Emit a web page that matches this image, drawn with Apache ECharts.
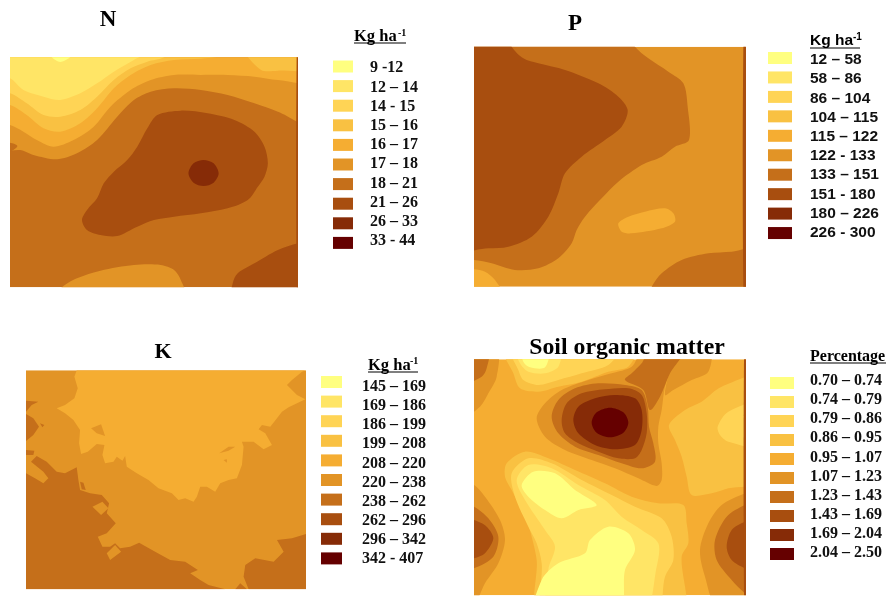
<!DOCTYPE html>
<html><head><meta charset="utf-8">
<style>html,body{margin:0;padding:0;background:#fff}#c{width:886px;height:596px;filter:blur(0.45px)}</style>
<script src="https://cdn.jsdelivr.net/npm/echarts@6/dist/echarts.min.js"></script>
</head><body><div id="c"></div>
<script>
// Colour classes shared by all four maps (index 0 = lowest class)
const palette = ['#FFFF80','#FFE566','#FFD455','#F9C142','#F5AD32','#E29426','#C56F1A','#A84E0F','#862B07','#650000'];

// Legend class labels
const nClasses = ['9 -12','12 – 14','14 - 15','15 – 16','16 – 17','17 – 18','18 – 21','21 – 26','26 – 33','33 - 44'];
const pClasses = ['12 – 58','58 – 86','86 – 104','104 – 115','115 – 122','122 - 133','133 – 151','151 - 180','180 – 226','226 - 300'];
const kClasses = ['145 – 169','169 – 186','186 – 199','199 – 208','208 – 220','220 – 238','238 – 262','262 – 296','296 – 342','342 - 407'];
const omClasses = ['0.70 – 0.74','0.74 – 0.79','0.79 – 0.86','0.86 – 0.95','0.95 – 1.07','1.07 – 1.23','1.23 – 1.43','1.43 – 1.69','1.69 – 2.04','2.04 – 2.50'];

// Map zones: [class, outline in map units], painted in order over the base class
const nBase = 6;
const nZones = [
 [5,[[-60,450],[60,450],[100,465],[170,478],[230,460],[290,420],[350,350],[400,300],[450,275],[520,265],[600,270],[680,285],[760,310],[830,335],[960,385],[960,80],[-60,80]]],
 [4,[[-60,360],[30,375],[70,395],[110,420],[160,440],[220,420],[280,380],[330,320],[390,270],[450,240],[520,225],[600,225],[680,225],[760,230],[830,240],[960,245],[960,80],[-60,80]]],
 [3,[[-60,300],[30,315],[80,345],[130,385],[180,395],[240,370],[290,325],[340,265],[390,225],[450,195],[520,180],[600,176],[680,166],[730,150],[-60,100]]],
 [3,[[735,150],[780,210],[830,212],[960,205],[960,120]]],
 [2,[[-60,265],[30,280],[80,310],[130,345],[180,350],[240,330],[290,290],[340,240],[390,205],[440,185],[490,172],[540,130],[-60,100]]],
 [1,[[-60,215],[30,235],[70,270],[130,290],[180,300],[240,280],[290,250],[340,215],[400,180],[430,160],[-60,100]]],
 [0,[[150,165],[180,186],[215,165],[180,150]]],
 [6,[[-20,430],[30,428],[52,438],[30,455],[-20,458]]],
 [7,[[470,345],[540,332],[620,340],[700,360],[760,395],[790,440],[800,490],[790,530],[770,560],[740,600],[680,625],[600,640],[520,650],[460,660],[410,680],[350,708],[300,705],[260,690],[245,660],[260,630],[290,595],[310,550],[340,515],[380,480],[410,440],[440,385]]],
 [8,[[608,480],[638,490],[653,520],[638,548],[608,558],[578,548],[563,520],[578,490]]],
 [7,[[960,715],[890,730],[830,750],[760,790],[710,820],[695,850],[690,920],[960,920]]],
 [5,[[160,900],[185,862],[230,835],[300,812],[400,795],[480,795],[520,810],[540,840],[555,900]]],
 [7,[[886,160],[893,160],[893,862],[886,862]]]
];
const pBase = 5;
const pZones = [
 [6,[[-60,780],[27,780],[80,790],[150,810],[220,805],[280,775],[320,730],[335,690],[360,650],[410,595],[460,545],[530,495],[590,470],[630,440],[672,420],[668,320],[655,250],[610,215],[550,175],[510,140],[470,80],[-60,80]]],
 [7,[[-60,745],[70,745],[130,740],[200,710],[250,650],[280,580],[300,520],[350,470],[420,420],[470,380],[488,330],[460,290],[400,250],[300,210],[220,190],[175,175],[140,140],[110,80],[-60,80]]],
 [6,[[530,920],[560,860],[590,820],[650,780],[730,760],[800,755],[900,745],[900,920]]],
 [4,[[460,670],[490,650],[540,635],[600,625],[625,640],[630,665],[590,685],[500,700],[470,695]]],
 [4,[[-40,805],[27,808],[60,815],[90,840],[120,900],[-40,900]]],
 [7,[[835,140],[843,140],[843,860],[835,860]]]
];
const kBase = 5;
const kZones = [
 [4,[[185,121],[178,140],[188,175],[178,205],[150,225],[125,235],[150,250],[175,270],[195,300],[192,340],[198,372],[218,365],[245,342],[268,345],[262,375],[270,400],[295,395],[305,380],[322,392],[330,378],[335,410],[365,430],[400,450],[430,475],[470,490],[490,510],[510,505],[535,515],[545,500],[555,470],[575,470],[600,485],[615,460],[640,450],[665,445],[680,405],[685,350],[680,335],[715,335],[745,358],[770,345],[750,310],[730,298],[740,285],[765,290],[785,265],[800,245],[820,232],[845,220],[870,208],[845,195],[815,165],[830,150],[860,125],[872,121]]],
 [5,[[228,295],[258,283],[270,318],[245,310]]],
 [5,[[612,370],[640,350],[660,350],[640,362]]],
 [5,[[625,390],[635,388],[635,398]]],
 [6,[[33,430],[60,445],[85,460],[100,445],[85,425],[60,405],[48,395],[65,378],[95,395],[125,425],[150,430],[185,412],[190,450],[195,480],[225,490],[260,495],[282,520],[275,550],[302,580],[275,610],[248,620],[262,650],[285,650],[300,640],[315,655],[345,650],[372,638],[420,665],[465,690],[510,695],[548,720],[525,730],[555,750],[580,765],[630,778],[33,778]]],
 [5,[[232,530],[262,515],[280,535],[258,555]]],
 [5,[[275,670],[300,645],[318,665],[285,690]]],
 [6,[[660,778],[675,760],[695,778]]],
 [6,[[700,778],[685,740],[690,705],[720,685],[775,695],[805,665],[785,630],[830,625],[872,612],[872,778]]],
 [6,[[33,212],[70,215],[50,225],[33,245]]],
 [6,[[33,252],[55,265],[72,290],[55,315],[33,333]]],
 [6,[[33,360],[58,362],[55,375],[33,375]]],
 [6,[[75,280],[88,285],[82,292]]],
 [6,[[195,455],[205,458],[212,480],[200,478]]]
];
const omBase = 4;
const omZones = [
 [3,[[612,285],[660,240],[710,215],[770,170],[900,140],[900,450],[790,475],[740,490],[680,495],[665,440],[650,380],[630,330]]],
 [2,[[758,290],[790,245],[900,215],[900,350],[790,335],[765,315]]],
 [3,[[125,400],[180,365],[250,385],[330,420],[420,460],[500,500],[580,520],[655,525],[665,580],[670,640],[650,680],[650,860],[225,860],[215,690],[200,620],[185,570],[140,480],[120,440]]],
 [2,[[140,430],[190,385],[260,400],[350,450],[440,495],[510,530],[590,565],[620,620],[625,690],[600,740],[570,860],[240,860],[230,700],[215,640],[190,590],[150,500]]],
 [1,[[155,450],[190,405],[260,415],[340,465],[420,510],[470,560],[530,600],[580,640],[575,710],[530,860],[255,860],[250,720],[270,650],[240,600],[180,510]]],
 [0,[[170,465],[205,425],[270,430],[330,480],[395,525],[340,540],[290,565],[240,540],[190,500]]],
 [0,[[210,860],[230,750],[280,700],[360,670],[375,630],[430,590],[490,610],[510,660],[480,720],[460,860]]],
 [3,[[120,60],[510,60],[490,110],[430,125],[350,155],[280,170],[220,185],[165,175],[145,130]]],
 [2,[[140,60],[460,60],[430,105],[350,130],[280,150],[220,165],[175,150],[160,120]]],
 [1,[[155,60],[285,60],[280,110],[240,130],[190,125],[165,100]]],
 [0,[[170,60],[250,60],[240,112],[195,112],[175,95]]],
 [5,[[640,60],[735,60],[730,125],[680,150],[625,180],[600,195],[615,120]]],
 [5,[[215,265],[240,220],[290,180],[370,150],[440,130],[500,110],[530,70],[655,70],[620,120],[600,170],[590,240],[580,290],[580,340],[590,400],[590,450],[575,468],[520,445],[450,415],[380,390],[300,360],[240,320]]],
 [6,[[480,150],[500,130],[530,100],[550,70],[650,70],[615,130],[585,200],[555,240],[535,180]]],
 [6,[[260,260],[280,210],[330,175],[400,160],[480,165],[530,180],[548,230],[552,290],[565,340],[570,395],[530,415],[470,400],[400,375],[330,350],[280,310]]],
 [7,[[290,270],[305,220],[350,190],[420,178],[490,175],[530,195],[545,250],[545,310],[530,360],[510,385],[460,385],[400,365],[340,340],[300,310]]],
 [8,[[325,270],[340,230],[390,205],[450,195],[510,205],[530,240],[530,300],[510,345],[450,358],[390,345],[340,310]]],
 [9,[[380,278],[395,247],[435,233],[475,247],[490,278],[475,308],[435,322],[395,308]]],
 [5,[[-20,60],[95,60],[95,140],[70,190],[45,230],[-20,270]]],
 [6,[[-20,60],[70,60],[65,115],[50,140],[-20,165]]],
 [5,[[-20,450],[27,465],[60,500],[105,570],[120,630],[100,700],[60,760],[20,840],[-20,840]]],
 [6,[[-20,520],[27,530],[70,565],[100,620],[85,680],[27,715],[-20,725]]],
 [7,[[-20,565],[27,570],[65,590],[85,625],[60,670],[27,685],[-20,690]]],
 [5,[[880,480],[840,490],[770,525],[730,580],[705,660],[720,740],[760,840],[880,840]]],
 [6,[[880,515],[840,525],[785,560],[750,630],[755,690],[800,750],[840,790],[880,820]]],
 [7,[[880,565],[840,575],[800,600],[785,650],[800,690],[840,715],[880,730]]],
 [7,[[837,88],[843,88],[843,796],[837,796]]]
];

const panels = [
 {title:'N', tx:108, ty:20, tsize:23, zones:nZones, base:nBase, smooth:0.3,
  box:[10,57.3,288,230], ext:[30,890,172,862],
  labels:nClasses, font:'Liberation Serif', size:16, swX:333, swW:20, first:66.5, step:19.6, textX:370, labFirst:68.3, labStep:19.2,
  head:'Kg ha', hfont:'Liberation Serif', hsize:16.5, hx:354, hy:37, sup:[398,33], ul:[354,406,43]},
 {title:'P', tx:575, ty:24, tsize:23, zones:pZones, base:pBase, smooth:0.3,
  box:[474,46.7,272,240], ext:[27,843,140,860],
  labels:pClasses, font:'Liberation Sans', size:15.5, swX:768, swW:24, first:58, step:19.45, textX:810, labFirst:60, labStep:19.2,
  head:'Kg ha', hfont:'Liberation Sans', hsize:15.5, hx:810, hy:41, sup:[853,37], ul:[810,860,48]},
 {title:'K', tx:163, ty:352, tsize:22, zones:kZones, base:kBase, smooth:0,
  box:[26,370.3,280,219], ext:[33,872,121,778],
  labels:kClasses, font:'Liberation Serif', size:16, swX:321, swW:21, first:382, step:19.6, textX:362, labFirst:387, labStep:19.1,
  head:'Kg ha', hfont:'Liberation Serif', hsize:16.5, hx:368, hy:366, sup:[410,361], ul:[368,418,372]},
 {title:'Soil organic matter', tx:627, ty:348, tsize:23.8, zones:omZones, base:omBase, smooth:0.3,
  box:[474,359.3,272,236], ext:[27,843,88,796],
  labels:omClasses, font:'Liberation Serif', size:16, swX:770, swW:24, first:383, step:19, textX:810, labFirst:381, labStep:19.1,
  head:'Percentage', hfont:'Liberation Serif', hsize:16, hx:810, hy:357, sup:null, ul:[810,886,363]}
];

const grid=[],xAxis=[],yAxis=[],series=[],title=[],graphic=[];
const hiddenCat=(g,data)=>({gridIndex:g,type:'category',inverse:true,data,show:false});
panels.forEach((p,i)=>{
  const g=grid.length;
  grid.push({left:p.box[0],top:p.box[1],width:p.box[2],height:p.box[3],containLabel:false});
  xAxis.push({gridIndex:g,type:'value',min:p.ext[0],max:p.ext[1],show:false});
  yAxis.push({gridIndex:g,type:'value',min:p.ext[2],max:p.ext[3],inverse:true,show:false});
  const items=[[p.base,[[p.ext[0],p.ext[2]],[p.ext[1],p.ext[2]],[p.ext[1],p.ext[3]],[p.ext[0],p.ext[3]]]]].concat(p.zones);
  series.push({type:'custom',xAxisIndex:g,yAxisIndex:g,clip:true,silent:true,animation:false,
    data:items.map((z,k)=>[p.ext[0],p.ext[2],k]),
    renderItem:(params,api)=>{
      const z=items[params.dataIndex];
      const isBase=params.dataIndex===0;
      return {type:'polygon',shape:{points:z[1].map(q=>api.coord(q)),smooth:isBase?0:p.smooth},
        style:{fill:palette[z[0]],stroke:null}};
    }});
  // legend swatches, one per class
  const l=grid.length;
  grid.push({left:p.swX,width:p.swW,top:p.first-p.step/2,height:p.step*10,containLabel:false});
  xAxis.push({gridIndex:l,type:'value',min:0,max:1,show:false});
  yAxis.push(hiddenCat(l,p.labels));
  series.push({type:'bar',xAxisIndex:l,yAxisIndex:l,barWidth:12,silent:true,animation:false,
    data:p.labels.map((_,k)=>({value:1,itemStyle:{color:palette[k]}}))});
  // legend labels: a category axis with its own spacing
  const t=grid.length;
  grid.push({left:p.swX,width:p.swW,top:p.labFirst-p.labStep/2,height:p.labStep*10,containLabel:false});
  xAxis.push({gridIndex:t,type:'value',min:0,max:1,show:false});
  yAxis.push({gridIndex:t,type:'category',inverse:true,position:'right',data:p.labels,
    axisLine:{show:false},axisTick:{show:false},splitLine:{show:false},
    axisLabel:{show:true,interval:0,margin:p.textX-p.swX-p.swW,color:'#111',fontFamily:p.font,fontWeight:'bold',fontSize:p.size,align:'left'}});
  title.push({text:p.title,left:p.tx,top:p.ty,textAlign:'center',textVerticalAlign:'middle',padding:0,
    textStyle:{fontFamily:'Liberation Serif',fontWeight:'bold',fontSize:p.tsize,color:'#000'}});
  title.push({text:p.head,left:p.hx,top:p.hy,textVerticalAlign:'middle',padding:0,
    textStyle:{fontFamily:p.hfont,fontWeight:'bold',fontSize:p.hsize,color:'#000'}});
  if(p.sup) title.push({text:'-1',left:p.sup[0],top:p.sup[1],textVerticalAlign:'middle',padding:0,
    textStyle:{fontFamily:p.hfont,fontWeight:'bold',fontSize:10,color:'#000'}});
  graphic.push({type:'line',shape:{x1:p.ul[0],y1:p.ul[2],x2:p.ul[1],y2:p.ul[2]},style:{stroke:'#000',lineWidth:1.2},silent:true});
});

const chart=echarts.init(document.getElementById('c'),null,{renderer:'canvas'});
chart.setOption({animation:false,backgroundColor:'#fff',grid,xAxis,yAxis,series,title,graphic,tooltip:{show:false}});
</script></body></html>
